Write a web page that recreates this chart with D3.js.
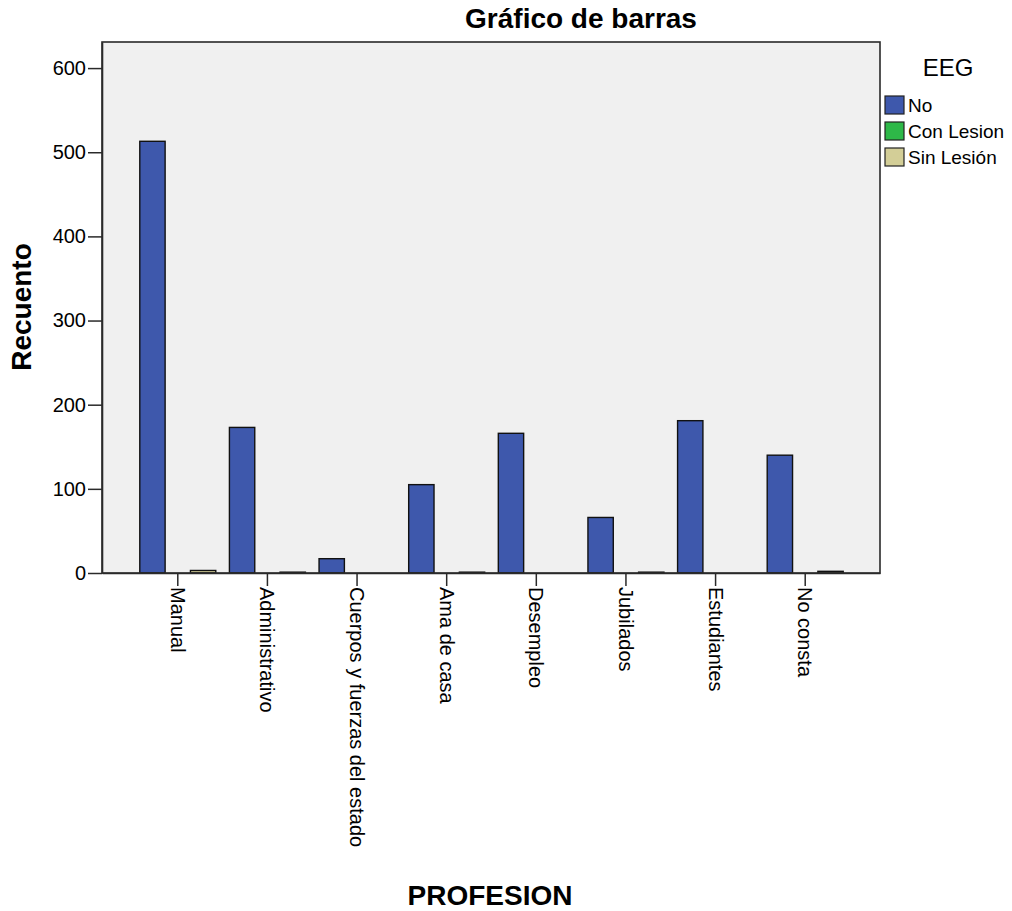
<!DOCTYPE html>
<html>
<head>
<meta charset="utf-8">
<script src="https://cdn.jsdelivr.net/npm/d3@7"></script>
<style>
  html, body { margin: 0; padding: 0; background: #fff; }
  svg { display: block; }
  text { font-family: "Liberation Sans", Arial, sans-serif; fill: #000; }
</style>
</head>
<body>
<svg id="chart" width="1012" height="911"></svg>
<script>
const categories = ["Manual", "Administrativo", "Cuerpos y fuerzas del estado", "Ama de casa", "Desempleo", "Jubilados", "Estudiantes", "No consta"];
const seriesNames = ["No", "Con Lesion", "Sin Lesión"];
const noValues = [513, 173, 17, 105, 166, 66, 181, 140];
const conLesionValues = [0, 0, 0, 0, 0, 0, 0, 0];
const sinLesionValues = [3, 1, 0, 1, 0, 1, 0, 2];
const yTicks = [0, 100, 200, 300, 400, 500, 600];
const colors = ["#3E58AC", "#2EB848", "#D3CE97"];

const seriesValues = [noValues, conLesionValues, sinLesionValues];

const svg = d3.select("#chart");
const plot = { left: 102, right: 880, top: 42, bottom: 573 };

svg.append("rect")
  .attr("x", plot.left).attr("y", plot.top)
  .attr("width", plot.right - plot.left).attr("height", plot.bottom - plot.top)
  .attr("fill", "#F0F0F0");

const x = d3.scalePoint().domain(categories).range([plot.left, plot.right]).padding(0.84);
const x1 = d3.scaleBand().domain(seriesNames).range([-37.5, 38.5]).padding(0);
const y = d3.scaleLinear().domain([0, 631]).range([plot.bottom, plot.top]);

const barData = [];
categories.forEach((c, i) => {
  seriesNames.forEach((s, j) => {
    barData.push({ cat: c, series: s, value: seriesValues[j][i], color: colors[j] });
  });
});
svg.append("g").selectAll("rect")
  .data(barData.filter(d => d.value > 0))
  .join("rect")
  .attr("x", d => x(d.cat) + x1(d.series))
  .attr("y", d => y(d.value))
  .attr("width", x1.bandwidth())
  .attr("height", d => y(0) - y(d.value))
  .attr("fill", d => d.color)
  .attr("stroke", "#111")
  .attr("stroke-width", 1.4);

svg.append("rect")
  .attr("x", plot.left).attr("y", plot.top)
  .attr("width", plot.right - plot.left).attr("height", plot.bottom - plot.top)
  .attr("fill", "none").attr("stroke", "#2a2a2a").attr("stroke-width", 1.6);

const yAxis = svg.append("g")
  .attr("transform", `translate(${plot.left},0)`)
  .call(d3.axisLeft(y).tickValues(yTicks).tickSize(14).tickSizeOuter(0).tickPadding(2).tickFormat(d3.format("d")));
yAxis.select(".domain").attr("stroke", "#2a2a2a").attr("stroke-width", 1.6);
yAxis.selectAll(".tick line").attr("stroke", "#2a2a2a").attr("stroke-width", 1.5);
yAxis.selectAll(".tick text").attr("font-size", 20).attr("font-family", "Liberation Sans, Arial, sans-serif").attr("fill", "#000");

const xAxis = svg.append("g")
  .attr("transform", `translate(0,${plot.bottom})`)
  .call(d3.axisBottom(x).tickSize(13).tickSizeOuter(0).tickPadding(0));
xAxis.select(".domain").attr("stroke", "#2a2a2a").attr("stroke-width", 1.6);
xAxis.selectAll(".tick line").attr("stroke", "#2a2a2a").attr("stroke-width", 1.5);
xAxis.selectAll(".tick text")
  .attr("font-size", 20)
  .attr("font-family", "Liberation Sans, Arial, sans-serif")
  .attr("fill", "#000")
  .attr("text-anchor", "start")
  .attr("transform", "translate(0,14) rotate(90)")
  .attr("x", 0).attr("y", 0).attr("dy", "0.35em");

svg.append("text")
  .attr("x", 581).attr("y", 28)
  .attr("text-anchor", "middle")
  .attr("font-size", 28).attr("font-weight", "bold")
  .text("Gráfico de barras");

svg.append("text")
  .attr("x", 490).attr("y", 905)
  .attr("text-anchor", "middle")
  .attr("font-size", 28).attr("font-weight", "bold")
  .text("PROFESION");

svg.append("text")
  .attr("transform", "translate(31,307) rotate(-90)")
  .attr("text-anchor", "middle")
  .attr("font-size", 28).attr("font-weight", "bold")
  .text("Recuento");

const legend = svg.append("g");
legend.append("text")
  .attr("x", 948).attr("y", 76)
  .attr("text-anchor", "middle")
  .attr("font-size", 24)
  .text("EEG");
const items = legend.selectAll("g.item").data(seriesNames).join("g")
  .attr("class", "item")
  .attr("transform", (d, i) => `translate(885,${96 + i * 26})`);
items.append("rect")
  .attr("width", 19).attr("height", 18)
  .attr("fill", (d, i) => colors[i])
  .attr("stroke", "#222").attr("stroke-width", 1.2);
items.append("text")
  .attr("x", 23).attr("y", 16)
  .attr("font-size", 19)
  .text(d => d);
</script>
</body>
</html>
